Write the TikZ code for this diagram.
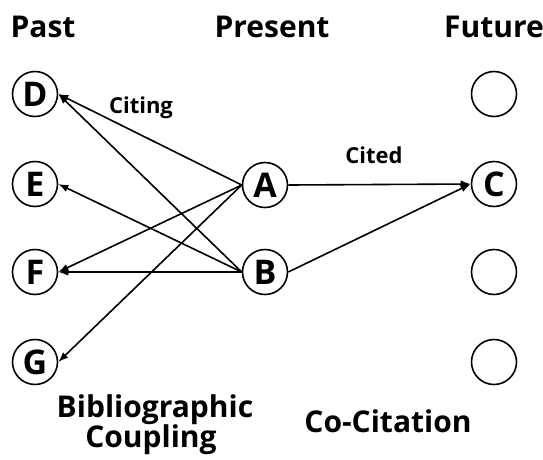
\documentclass[tikz,border=0pt]{standalone}
\usepackage{fontspec}
\setmainfont{Open Sans}
\usetikzlibrary{arrows.meta}
\tikzset{
  paper/.style={circle,draw,line width=1.6pt,minimum size=45pt,inner sep=0pt,font=\fontsize{34}{34}\selectfont\bfseries},
  title/.style={anchor=base,inner sep=0pt,font=\fontsize{30}{30}\selectfont\bfseries},
  lbl/.style={anchor=base,inner sep=0pt,font=\fontsize{22}{22}\selectfont\bfseries},
  big/.style={anchor=base,inner sep=0pt,font=\fontsize{30}{30}\selectfont\bfseries},
  cite/.style={line width=1.6pt,-{Latex[length=10pt,width=7.5pt]}}
}
\begin{document}
\begin{tikzpicture}[x=1pt,y=-1pt]
\useasboundingbox (0,0) rectangle (543,459);
\node[title] (past) at (43,37) {Past};
\node[title] (present) at (272,37) {Present};
\node[title] (future) at (494,37) {Future};
\node[paper] (D) at (35,94) {D};
\node[paper] (E) at (35,184) {E};
\node[paper] (F) at (35,272) {F};
\node[paper] (G) at (35,362) {G};
\node[paper] (A) at (265,185) {A};
\node[paper] (B) at (265,272) {B};
\node[paper] (F1) at (494,94) {};
\node[paper] (C) at (494,184) {C};
\node[paper] (F3) at (494,272) {};
\node[paper] (F4) at (494,362) {};
\draw[cite] (A.west) -- (D.east);
\draw[cite] (B.west) -- (D.east);
\draw[cite] (B.west) -- (E.east);
\draw[cite] (A.west) -- (F.east);
\draw[cite] (B.west) -- (F.east);
\draw[cite] (A.west) -- (G.east);
\draw[cite] (A.east) -- (C.west);
\draw[cite] (B.east) -- (C.west);
\node[lbl] (citing) at (141,113) {Citing};
\node[lbl] (cited) at (374,163) {Cited};
\node[big] (bib) at (155,417) {Bibliographic};
\node[big] (coup) at (151,447) {Coupling};
\node[big] (cc) at (388,432) {Co-Citation};
\end{tikzpicture}
\end{document}
